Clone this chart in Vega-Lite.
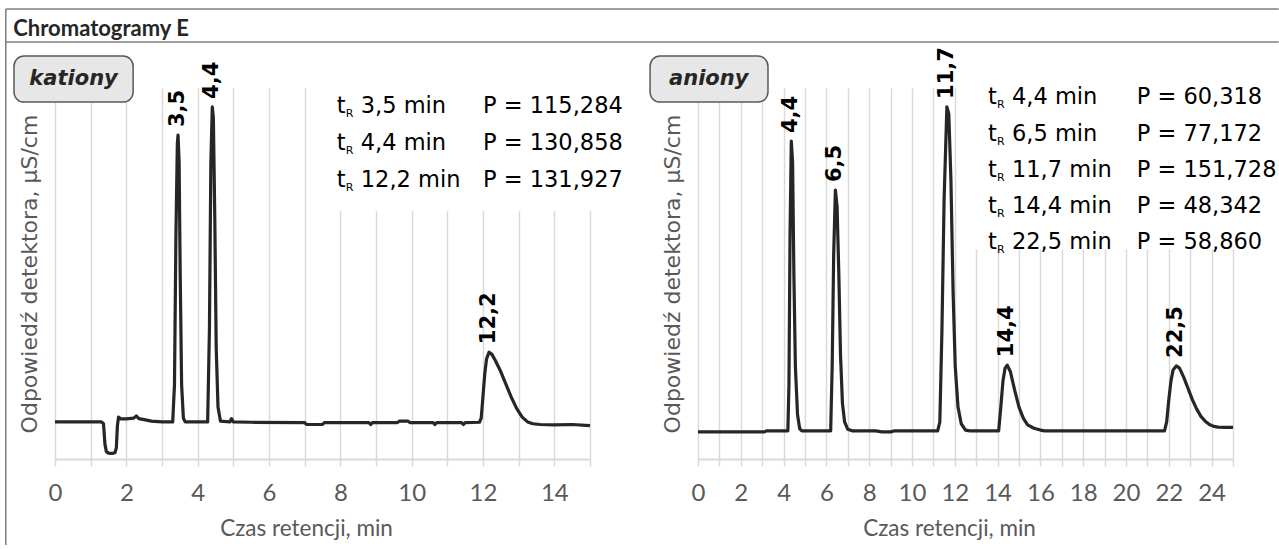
{
  "$schema": "https://vega.github.io/schema/vega-lite/v6.json",
  "background": "white",
  "padding": {"left": 5, "top": 8, "right": 0, "bottom": 3},
  "bounds": "flush",
  "spacing": 108,
  "config": {
    "view": {"stroke": null},
    "font": "DejaVu Sans",
    "axisX": {
      "domainColor": "#d9d9d9", "domainWidth": 2,
      "gridColor": "#d9d9d9", "gridWidth": 1.5,
      "tickColor": "#d9d9d9", "tickWidth": 1.5, "tickSize": 7,
      "labelColor": "#595959", "labelFont": "Lato", "labelFontSize": 24, "labelPadding": 15, "labelFlush": false,
      "titleColor": "#595959", "titleFont": "Lato", "titleFontSize": 22.5, "titleFontWeight": "normal", "titlePadding": 12,
      "titleX": 251
    },
    "axisY": {
      "titleColor": "#595959", "titleFont": "DejaVu Sans", "titleFontSize": 22, "titleFontWeight": "normal", "titlePadding": 14,
      "labels": false, "ticks": false, "domain": false, "grid": false
    }
  },
  "datasets": {
    "kat": [
      {"x": 0, "y": 10.0}, {"x": 1.3, "y": 10.0}, {"x": 1.36, "y": 9.5}, {"x": 1.4, "y": 4.0},
      {"x": 1.44, "y": 2.0}, {"x": 1.5, "y": 1.6}, {"x": 1.6, "y": 1.5}, {"x": 1.68, "y": 1.7},
      {"x": 1.72, "y": 3.0}, {"x": 1.75, "y": 9.0}, {"x": 1.78, "y": 11.3}, {"x": 1.85, "y": 10.8},
      {"x": 2.0, "y": 10.8}, {"x": 2.2, "y": 11.0}, {"x": 2.28, "y": 11.6}, {"x": 2.35, "y": 10.9},
      {"x": 2.5, "y": 10.6}, {"x": 2.7, "y": 10.2}, {"x": 3.0, "y": 10.0}, {"x": 3.3, "y": 10.0},
      {"x": 3.35, "y": 20}, {"x": 3.39, "y": 60}, {"x": 3.43, "y": 85}, {"x": 3.45, "y": 87.3},
      {"x": 3.48, "y": 80}, {"x": 3.51, "y": 50}, {"x": 3.55, "y": 20}, {"x": 3.6, "y": 11},
      {"x": 3.65, "y": 10}, {"x": 4.0, "y": 10}, {"x": 4.28, "y": 10}, {"x": 4.33, "y": 35},
      {"x": 4.37, "y": 80}, {"x": 4.41, "y": 94.9}, {"x": 4.44, "y": 92}, {"x": 4.48, "y": 65},
      {"x": 4.52, "y": 30}, {"x": 4.57, "y": 14}, {"x": 4.64, "y": 10.2}, {"x": 4.9, "y": 10},
      {"x": 4.95, "y": 10.9}, {"x": 5.0, "y": 10}, {"x": 5.5, "y": 9.9}, {"x": 7.0, "y": 9.8},
      {"x": 7.05, "y": 9.3}, {"x": 7.5, "y": 9.3}, {"x": 7.55, "y": 9.8}, {"x": 8.8, "y": 9.8},
      {"x": 8.85, "y": 9.3}, {"x": 8.9, "y": 9.8}, {"x": 9.6, "y": 9.8}, {"x": 9.65, "y": 10.2},
      {"x": 9.9, "y": 10.2}, {"x": 9.95, "y": 9.8}, {"x": 10.6, "y": 9.8}, {"x": 10.65, "y": 9.3},
      {"x": 10.7, "y": 9.8}, {"x": 11.4, "y": 9.8}, {"x": 11.45, "y": 9.3}, {"x": 11.5, "y": 9.8},
      {"x": 11.9, "y": 9.9}, {"x": 11.95, "y": 11}, {"x": 12.0, "y": 17}, {"x": 12.05, "y": 23},
      {"x": 12.1, "y": 27}, {"x": 12.17, "y": 28.8}, {"x": 12.25, "y": 28.2}, {"x": 12.35, "y": 26.5},
      {"x": 12.5, "y": 23.5}, {"x": 12.65, "y": 20}, {"x": 12.8, "y": 16.5}, {"x": 12.95, "y": 13.5},
      {"x": 13.1, "y": 11.3}, {"x": 13.25, "y": 10.0}, {"x": 13.4, "y": 9.5}, {"x": 13.6, "y": 9.3},
      {"x": 14.0, "y": 9.2}, {"x": 14.5, "y": 9.3}, {"x": 15.0, "y": 9.0}
    ],
    "ani": [
      {"x": 0, "y": 7.3}, {"x": 3.1, "y": 7.3}, {"x": 3.2, "y": 7.6}, {"x": 4.2, "y": 7.6},
      {"x": 4.25, "y": 20}, {"x": 4.3, "y": 60}, {"x": 4.36, "y": 85.7}, {"x": 4.42, "y": 80},
      {"x": 4.48, "y": 50}, {"x": 4.55, "y": 25}, {"x": 4.65, "y": 12}, {"x": 4.75, "y": 8.2},
      {"x": 4.85, "y": 7.6}, {"x": 6.2, "y": 7.6}, {"x": 6.27, "y": 25}, {"x": 6.34, "y": 55},
      {"x": 6.42, "y": 72.5}, {"x": 6.5, "y": 68}, {"x": 6.58, "y": 50}, {"x": 6.66, "y": 28},
      {"x": 6.75, "y": 15}, {"x": 6.85, "y": 10}, {"x": 7.0, "y": 8}, {"x": 7.2, "y": 7.6},
      {"x": 8.3, "y": 7.6}, {"x": 8.6, "y": 7.3}, {"x": 9.0, "y": 7.3}, {"x": 9.2, "y": 7.6},
      {"x": 11.2, "y": 7.6}, {"x": 11.3, "y": 10}, {"x": 11.4, "y": 35}, {"x": 11.5, "y": 70},
      {"x": 11.63, "y": 94.9}, {"x": 11.72, "y": 93}, {"x": 11.82, "y": 75}, {"x": 11.92, "y": 45},
      {"x": 12.02, "y": 25}, {"x": 12.15, "y": 14}, {"x": 12.3, "y": 9.5}, {"x": 12.5, "y": 7.8},
      {"x": 12.7, "y": 7.6}, {"x": 14.05, "y": 7.6}, {"x": 14.15, "y": 14}, {"x": 14.25, "y": 21},
      {"x": 14.35, "y": 24.5}, {"x": 14.45, "y": 25.3}, {"x": 14.6, "y": 23.5}, {"x": 14.8, "y": 18.5},
      {"x": 15.0, "y": 14}, {"x": 15.2, "y": 11}, {"x": 15.4, "y": 9.2}, {"x": 15.7, "y": 8.3},
      {"x": 16.0, "y": 7.8}, {"x": 16.2, "y": 7.6}, {"x": 21.8, "y": 7.6}, {"x": 21.9, "y": 10},
      {"x": 22.0, "y": 16}, {"x": 22.1, "y": 21}, {"x": 22.2, "y": 24}, {"x": 22.35, "y": 25.1},
      {"x": 22.5, "y": 24.5}, {"x": 22.7, "y": 22}, {"x": 22.9, "y": 19}, {"x": 23.1, "y": 16},
      {"x": 23.3, "y": 13.5}, {"x": 23.5, "y": 11.5}, {"x": 23.7, "y": 10.2}, {"x": 23.9, "y": 9.3},
      {"x": 24.1, "y": 8.8}, {"x": 24.3, "y": 8.6}, {"x": 24.6, "y": 8.5}, {"x": 25.0, "y": 8.5}
    ],
    "peakK": [
      {"x": 3.45, "y": 87.3, "text": "3,5"},
      {"x": 4.41, "y": 94.9, "text": "4,4"},
      {"x": 12.17, "y": 28.8, "text": "12,2"}
    ],
    "peakA": [
      {"x": 4.36, "y": 85.7, "text": "4,4"},
      {"x": 6.42, "y": 72.5, "text": "6,5"},
      {"x": 11.63, "y": 94.9, "text": "11,7"},
      {"x": 14.45, "y": 25.3, "text": "14,4"},
      {"x": 22.35, "y": 25.1, "text": "22,5"}
    ],
    "legTK": [
      {"x": 7.9, "y": 95.1, "text": "3,5 min"},
      {"x": 7.9, "y": 85.2, "text": "4,4 min"},
      {"x": 7.9, "y": 75.2, "text": "12,2 min"}
    ],
    "legPK": [
      {"x": 12.0, "y": 95.1, "text": "P = 115,284"},
      {"x": 12.0, "y": 85.2, "text": "P = 130,858"},
      {"x": 12.0, "y": 75.2, "text": "P = 131,927"}
    ],
    "legTA": [
      {"x": 13.55, "y": 97.6, "text": "4,4 min"},
      {"x": 13.55, "y": 87.7, "text": "6,5 min"},
      {"x": 13.55, "y": 78.0, "text": "11,7 min"},
      {"x": 13.55, "y": 68.3, "text": "14,4 min"},
      {"x": 13.55, "y": 58.6, "text": "22,5 min"}
    ],
    "legPA": [
      {"x": 20.5, "y": 97.6, "text": "P = 60,318"},
      {"x": 20.5, "y": 87.7, "text": "P = 77,172"},
      {"x": 20.5, "y": 78.0, "text": "P = 151,728"},
      {"x": 20.5, "y": 68.3, "text": "P = 48,342"},
      {"x": 20.5, "y": 58.6, "text": "P = 58,860"}
    ]
  },
  "hconcat": [
    {
      "width": 535,
      "height": 371,
      "encoding": {
        "x": {"field": "x", "type": "quantitative",
              "scale": {"domain": [0, 15], "nice": false, "zero": false},
              "axis": {"title": "Czas retencji, min", "grid": true,
                       "values": [0,1,2,3,4,5,6,7,8,9,10,11,12,13,14,15],
                       "labelExpr": "datum.value % 2 === 0 ? datum.label : ''"}},
        "y": {"field": "y", "type": "quantitative",
              "scale": {"domain": [0, 100], "nice": false, "zero": false},
              "axis": {"title": "Odpowiedź detektora, µS/cm"}}
      },
      "layer": [
        {
          "data": {"values": [{"x": 7.6, "x2": 15.3, "y": 66.8, "y2": 101}]},
          "mark": {"type": "rect", "fill": "white"},
          "encoding": {"x2": {"field": "x2"}, "y2": {"field": "y2"}}
        },
        {
          "data": {"values": [
            {"x": -1.38, "x2": 34.31, "y": 121.3, "y2": 121.3},
            {"x": -1.38, "x2": 34.31, "y": 112.4, "y2": 112.4},
            {"x": -1.38, "x2": -1.38, "y": 121.3, "y2": -23.2}
          ]},
          "mark": {"type": "rule", "color": "#7f7f7f", "strokeWidth": 1.5},
          "encoding": {"x2": {"field": "x2"}, "y2": {"field": "y2"}}
        },
        {
          "data": {"values": [{"x": -1.17, "y": 115.9, "text": "Chromatogramy E"}]},
          "mark": {"type": "text", "align": "left", "baseline": "middle", "font": "Lato", "fontSize": 22, "fontWeight": "bold", "color": "#262626"},
          "encoding": {"text": {"field": "text"}}
        },
        {
          "data": {"values": [{"x": -1.15, "x2": 2.19, "y": 96.2, "y2": 108.6}]},
          "mark": {"type": "rect", "fill": "#e7e7e7", "stroke": "#595959", "strokeWidth": 1.5, "cornerRadius": 10},
          "encoding": {"x2": {"field": "x2"}, "y2": {"field": "y2"}}
        },
        {
          "data": {"values": [{"x": 0.52, "y": 102.4, "text": "kationy"}]},
          "mark": {"type": "text", "align": "center", "baseline": "middle", "fontSize": 21, "fontWeight": "bold", "fontStyle": "italic", "color": "#262626"},
          "encoding": {"text": {"field": "text"}}
        },
        {
          "data": {"name": "kat"},
          "mark": {"type": "line", "color": "#262626", "strokeWidth": 3.2, "strokeJoin": "round"}
        },
        {
          "data": {"name": "peakK"},
          "mark": {"type": "text", "angle": 270, "align": "left", "baseline": "middle", "dx": 8, "fontSize": 21, "fontWeight": "bold", "color": "black"},
          "encoding": {"text": {"field": "text"}}
        },
        {
          "data": {"name": "legTK"},
          "mark": {"type": "text", "text": "t", "align": "left", "baseline": "middle", "fontSize": 22.5, "color": "black"}
        },
        {
          "data": {"name": "legTK"},
          "mark": {"type": "text", "text": "R", "align": "left", "baseline": "middle", "fontSize": 11, "dx": 9, "dy": 8, "color": "black"}
        },
        {
          "data": {"name": "legTK"},
          "mark": {"type": "text", "align": "left", "baseline": "middle", "fontSize": 22.5, "dx": 24, "color": "black"},
          "encoding": {"text": {"field": "text"}}
        },
        {
          "data": {"name": "legPK"},
          "mark": {"type": "text", "align": "left", "baseline": "middle", "fontSize": 22.5, "color": "black"},
          "encoding": {"text": {"field": "text"}}
        }
      ]
    },
    {
      "width": 535,
      "height": 371,
      "encoding": {
        "x": {"field": "x", "type": "quantitative",
              "scale": {"domain": [0, 25], "nice": false, "zero": false},
              "axis": {"title": "Czas retencji, min", "grid": true,
                       "values": [0,1,2,3,4,5,6,7,8,9,10,11,12,13,14,15,16,17,18,19,20,21,22,23,24,25],
                       "labelExpr": "datum.value % 2 === 0 ? datum.label : ''"}},
        "y": {"field": "y", "type": "quantitative",
              "scale": {"domain": [0, 100], "nice": false, "zero": false},
              "axis": {"title": "Odpowiedź detektora, µS/cm"}}
      },
      "layer": [
        {
          "data": {"values": [{"x": 12.6, "x2": 25.3, "y": 56.5, "y2": 101}]},
          "mark": {"type": "rect", "fill": "white"},
          "encoding": {"x2": {"field": "x2"}, "y2": {"field": "y2"}}
        },
        {
          "data": {"values": [{"x": -2.24, "x2": 3.27, "y": 96.2, "y2": 108.6}]},
          "mark": {"type": "rect", "fill": "#e7e7e7", "stroke": "#595959", "strokeWidth": 1.5, "cornerRadius": 10},
          "encoding": {"x2": {"field": "x2"}, "y2": {"field": "y2"}}
        },
        {
          "data": {"values": [{"x": 0.5, "y": 102.4, "text": "aniony"}]},
          "mark": {"type": "text", "align": "center", "baseline": "middle", "fontSize": 21, "fontWeight": "bold", "fontStyle": "italic", "color": "#262626"},
          "encoding": {"text": {"field": "text"}}
        },
        {
          "data": {"name": "ani"},
          "mark": {"type": "line", "color": "#262626", "strokeWidth": 3.2, "strokeJoin": "round"}
        },
        {
          "data": {"name": "peakA"},
          "mark": {"type": "text", "angle": 270, "align": "left", "baseline": "middle", "dx": 8, "fontSize": 21, "fontWeight": "bold", "color": "black"},
          "encoding": {"text": {"field": "text"}}
        },
        {
          "data": {"name": "legTA"},
          "mark": {"type": "text", "text": "t", "align": "left", "baseline": "middle", "fontSize": 22.5, "color": "black"}
        },
        {
          "data": {"name": "legTA"},
          "mark": {"type": "text", "text": "R", "align": "left", "baseline": "middle", "fontSize": 11, "dx": 9, "dy": 8, "color": "black"}
        },
        {
          "data": {"name": "legTA"},
          "mark": {"type": "text", "align": "left", "baseline": "middle", "fontSize": 22.5, "dx": 24, "color": "black"},
          "encoding": {"text": {"field": "text"}}
        },
        {
          "data": {"name": "legPA"},
          "mark": {"type": "text", "align": "left", "baseline": "middle", "fontSize": 22.5, "color": "black"},
          "encoding": {"text": {"field": "text"}}
        }
      ]
    }
  ]
}
